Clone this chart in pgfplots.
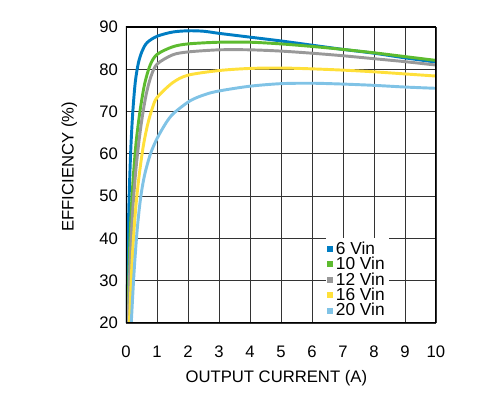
\documentclass[border=0pt]{standalone}
\usepackage{pgfplots}
\pgfplotsset{compat=1.18}
\usepackage{fontspec}
\setmainfont{Liberation Sans}
\definecolor{cA}{HTML}{007DC3}
\definecolor{cB}{HTML}{5DBB2F}
\definecolor{cC}{HTML}{999999}
\definecolor{cD}{HTML}{FFE03A}
\definecolor{cE}{HTML}{80C3E6}
\begin{document}
\begin{tikzpicture}
\useasboundingbox (-94.5pt,-54pt) rectangle (267.75pt,242.25pt);
\begin{axis}[
  at={(0,0)}, anchor=south west,
  scale only axis, width=232.5pt, height=222pt,
  xmin=0, xmax=10, ymin=20, ymax=90,
  xtick={0,1,...,10}, ytick={20,30,...,90},
  major tick length=0pt,
  grid=major,
  grid style={black!80, line width=0.7pt},
  axis line style={draw=none},
  /pgf/number format/assume math mode=true,
  tick label style={font=\fontsize{12.5}{14}\selectfont},
  xticklabel style={yshift=-13.5pt},
  yticklabel style={xshift=-2.5pt},
  xlabel={OUTPUT CURRENT (A)},
  ylabel={EFFICIENCY (\%)},
  label style={font=\fontsize{12.5}{15}\selectfont},
  xlabel style={at={(axis description cs:0.485,0)}, anchor=north, yshift=-32pt},
  ylabel style={at={(axis description cs:-0.143,0.528)}, anchor=south},
  legend style={at={(axis cs:6.44,40.2)}, anchor=north west, draw=none, fill=white,
     font=\fontsize{13}{13}\selectfont, inner xsep=1pt, inner ysep=1pt, row sep=-3.4pt,
     cells={anchor=west}},
  legend cell align=left,
  legend image code/.code={\fill[#1,draw=none] (0pt,-2.25pt) rectangle (4.5pt,2.25pt);},
  every axis plot/.append style={line width=2.2pt, smooth, tension=0.5},
]
\addplot[color=cA] coordinates {(0.03,20)(0.07,40)(0.11,52)(0.16,62)(0.22,70)(0.3,77)(0.4,81.5)(0.52,84.3)(0.68,86.3)(1,87.8)(1.5,88.8)(2,89.1)(2.5,89.0)(3,88.5)(4,87.6)(5,86.7)(6,85.7)(7,84.7)(8,83.8)(9,82.7)(10,81.7)};
\addplot[color=cB] coordinates {(0.06,20)(0.12,38)(0.18,48)(0.25,56)(0.33,63)(0.45,70)(0.6,76.5)(0.78,81)(1,83.5)(1.5,85.3)(2,86.0)(3,86.4)(4,86.4)(5,86.0)(6,85.4)(7,84.7)(8,83.9)(9,83.0)(10,82.1)};
\addplot[color=cC] coordinates {(0.07,20)(0.14,36)(0.22,47)(0.31,55.5)(0.41,62.5)(0.52,68.5)(0.65,74)(0.8,78.2)(1,81.2)(1.5,83.4)(2,84.1)(3,84.6)(4,84.6)(5,84.3)(6,83.8)(7,83.2)(8,82.5)(9,81.8)(10,81.0)};
\addplot[color=cD] coordinates {(0.11,20)(0.2,35)(0.3,46)(0.41,54)(0.55,61.5)(0.7,67)(0.85,70.8)(1,73.3)(1.5,76.8)(2,78.6)(3,79.7)(4,80.2)(5,80.3)(6,80.1)(7,79.8)(8,79.4)(9,78.9)(10,78.4)};
\addplot[color=cE] coordinates {(0.17,20)(0.26,32)(0.36,42)(0.47,49.5)(0.6,55)(0.79,60)(1,63.6)(1.29,67.3)(1.54,69.6)(2.08,72.6)(2.62,74.2)(3.1,75.0)(4,76.0)(5,76.6)(6,76.7)(7,76.5)(8,76.2)(9,75.8)(10,75.5)};
\legend{6 Vin,10 Vin,12 Vin,16 Vin,20 Vin}
\draw[line width=1.8pt] (rel axis cs:0,0) rectangle (rel axis cs:1,1);
\end{axis}
\end{tikzpicture}
\end{document}
